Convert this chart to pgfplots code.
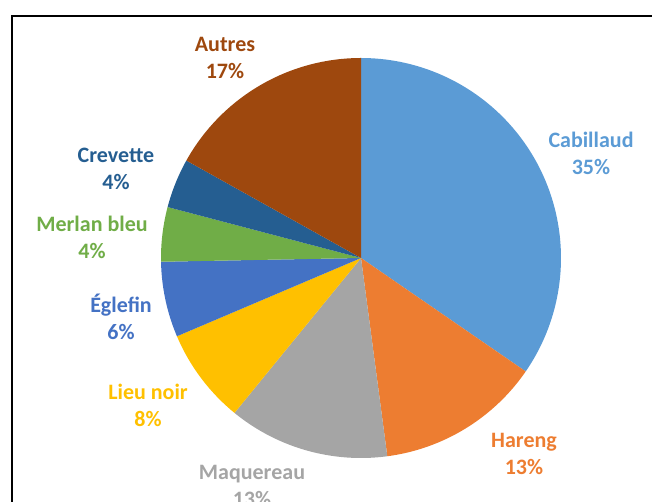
\documentclass[border=0pt]{standalone}
\usepackage{pgfplots}
\pgfplotsset{compat=1.18}
\usepackage{fontspec}
\setmainfont{Carlito}
\definecolor{cCab}{HTML}{5B9BD5}
\definecolor{cHar}{HTML}{ED7D31}
\definecolor{cMaq}{HTML}{A5A5A5}
\definecolor{cLieu}{HTML}{FFC000}
\definecolor{cEgl}{HTML}{4472C4}
\definecolor{cMer}{HTML}{70AD47}
\definecolor{cCre}{HTML}{255E91}
\definecolor{cAut}{HTML}{9E480E}
\begin{document}
\begin{tikzpicture}[x=1pt,y=1pt]
\useasboundingbox (0,0) rectangle (652,502);
\clip (0,0) rectangle (652,502);
\draw[line width=2pt, black] (11.5,-20) -- (11.5,486.3) -- (700,486.3);
\begin{axis}[at={(361pt,244pt)}, anchor=origin, scale only axis,
  width=400pt, height=400pt, xmin=-1, xmax=1, ymin=-1, ymax=1,
  hide axis, clip=false]
\gdef\cum{0}
\foreach \v/\c in {34.6/cCab, 13.3/cHar, 13.0/cMaq, 7.7/cLieu, 6.1/cEgl, 4.4/cMer, 4.0/cCre, 16.9/cAut} {
  \pgfmathsetmacro\aS{90-3.6*\cum}
  \pgfmathsetmacro\newcum{\cum+\v}
  \xdef\cum{\newcum}
  \pgfmathsetmacro\aE{90-3.6*\cum}
  \edef\tmp{\noexpand\addplot[draw=none, fill=\c, domain=\aE:\aS, samples=90] ({cos(x)},{sin(x)}) -- (axis cs:0,0) -- cycle;}
  \tmp
}
\tikzset{lbl/.style={align=center, font=\fontsize{22}{27}\selectfont\bfseries}}
\node[lbl, text=cAut] at (axis cs:-0.68,1.0) {Autres\\17\%};
\node[lbl, text=cCab] at (axis cs:1.15,0.525) {Cabillaud\\35\%};
\node[lbl, text=cCre] at (axis cs:-1.225,0.445) {Crevette\\4\%};
\node[lbl, text=cMer] at (axis cs:-1.345,0.105) {Merlan bleu\\4\%};
\node[lbl, text=cEgl] at (axis cs:-1.2,-0.295) {Églefin\\6\%};
\node[lbl, text=cLieu] at (axis cs:-1.065,-0.735) {Lieu noir\\8\%};
\node[lbl, text=cHar] at (axis cs:0.815,-0.98) {Hareng\\13\%};
\node[lbl, text=cMaq] at (axis cs:-0.545,-1.14) {Maquereau\\13\%};
\end{axis}
\end{tikzpicture}
\end{document}
